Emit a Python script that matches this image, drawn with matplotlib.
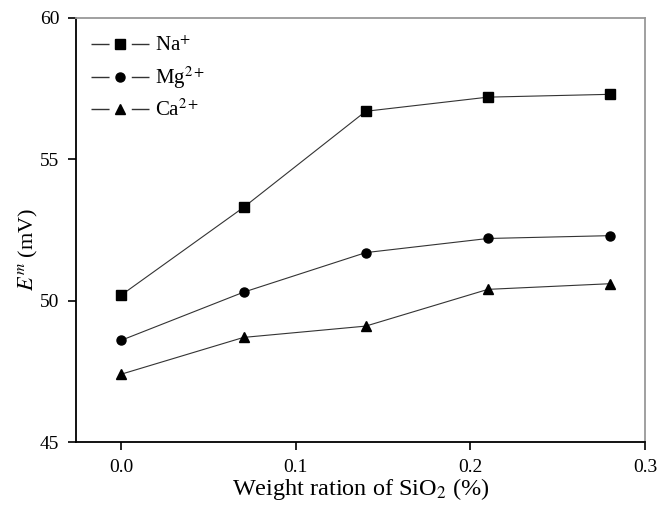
import matplotlib
matplotlib.use("Agg")
import matplotlib.pyplot as plt
from matplotlib.lines import Line2D
from matplotlib.legend_handler import HandlerTuple

# SiO2 content and membrane potential for each cation
sio2 = [0.0, 0.07, 0.14, 0.21, 0.28]
na = [50.2, 53.3, 56.7, 57.2, 57.3]
mg = [48.6, 50.3, 51.7, 52.2, 52.3]
ca = [47.4, 48.7, 49.1, 50.4, 50.6]

series_labels = [r"Na$^{+}$", r"Mg$^{2+}$", r"Ca$^{2+}$"]
x_ticks = [0.0, 0.1, 0.2, 0.3]
y_ticks = [45, 50, 55, 60]

plt.rcParams["font.family"] = ["Liberation Serif", "DejaVu Serif"]
plt.rcParams["mathtext.fontset"] = "stix"

fig = plt.figure(figsize=(6.59, 5.07), dpi=100)
ax = fig.add_axes([0.1153, 0.1282, 0.8635, 0.8363])

markers = ["s", "o", "^"]
handles = []
for vals, mk, lab in zip([na, mg, ca], markers, series_labels):
    ax.plot(sio2, vals, color="#333333", lw=0.8, marker=mk, ms=6.5,
            mfc="black", mec="black", label=lab)
    # legend key: line broken around the marker
    seg = Line2D([], [], color="#333333", lw=1.0,
                 linestyle=(0, (13, 16, 13, 80)))
    mark = Line2D([], [], color="black", marker=mk, ms=6.5, lw=0)
    handles.append((seg, mark))

ax.set_xlim(-0.026, 0.3)
ax.set_ylim(45, 60)
ax.set_xticks(x_ticks)
ax.set_xticklabels([f"{v:.1f}" for v in x_ticks])
ax.set_yticks(y_ticks)
ax.tick_params(axis="both", direction="out", length=6, width=1.2,
               labelsize=14, pad=6)

for side in ["left", "bottom"]:
    ax.spines[side].set_linewidth(1.3)
    ax.spines[side].set_color("black")
for side in ["top", "right"]:
    ax.spines[side].set_linewidth(1.3)
    ax.spines[side].set_color("#999999")

ax.set_xlabel(r"Weight ration of SiO$_2$ (%)", fontsize=17.5, labelpad=0)
ax.set_ylabel(r"$E^m$ (mV)", fontsize=16)
ax.yaxis.set_label_coords(-0.064, 0.455)

ax.legend(handles, series_labels, handler_map={tuple: HandlerTuple(ndivide=1)},
          loc="upper left", frameon=False, fontsize=15, handlelength=2.8,
          handletextpad=0.3, labelspacing=0.4, borderaxespad=0.3,
          bbox_to_anchor=(0.0, 0.99))

fig.savefig("out.png", dpi=100)
